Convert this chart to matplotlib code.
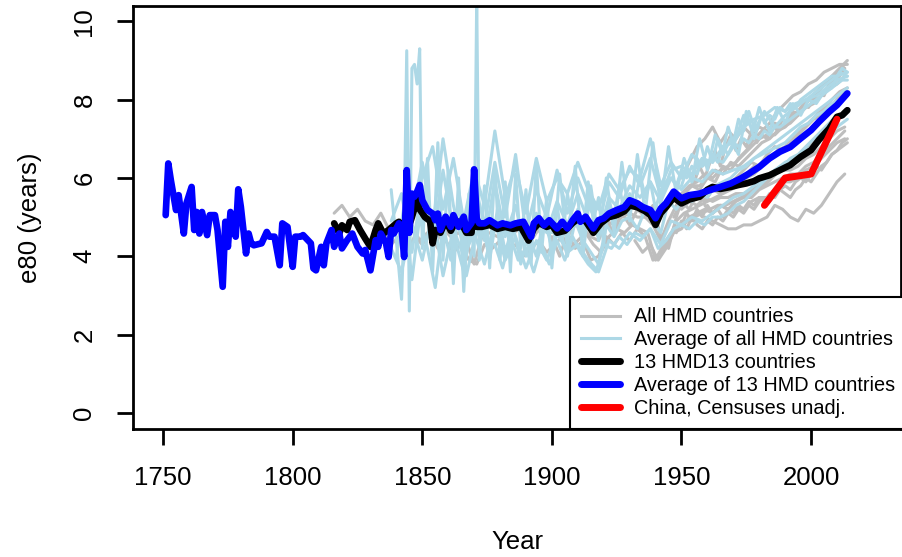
import numpy as np
import matplotlib.pyplot as plt
from matplotlib.lines import Line2D

plt.rcParams['font.family'] = ['Liberation Sans', 'DejaVu Sans']

# e80 averages
blue_years = [1751, 1752, 1753, 1755, 1756, 1758, 1759, 1761, 1762, 1763,
              1764, 1765, 1767, 1768, 1770, 1771, 1773, 1774, 1775, 1776,
              1778, 1779, 1780, 1782, 1783, 1784, 1785, 1788, 1790, 1791,
              1793, 1795, 1796, 1798, 1800, 1801, 1803, 1804, 1806, 1807,
              1808, 1809, 1811, 1812, 1813, 1815, 1816, 1818, 1819, 1821,
              1823, 1825, 1827, 1828, 1829, 1830, 1832, 1833, 1834, 1836,
              1837, 1838, 1839, 1841, 1842, 1843, 1844, 1845, 1846, 1847,
              1848, 1849, 1850, 1852, 1854, 1855, 1856, 1857, 1859, 1861,
              1862, 1864, 1866, 1867, 1869, 1870, 1871, 1872, 1874, 1876,
              1879, 1881, 1884, 1886, 1889, 1892, 1893, 1895, 1897, 1899,
              1902, 1904, 1906, 1908, 1910, 1911, 1913, 1916, 1918, 1920,
              1922, 1925, 1928, 1930, 1933, 1935, 1938, 1940, 1942, 1944,
              1947, 1950, 1953, 1957, 1961, 1965, 1969, 1973, 1976, 1980,
              1984, 1988, 1992, 1996, 2000, 2003, 2007, 2010, 2014]
blue_e80 = [5.05, 6.37, 5.94, 5.18, 5.56, 4.58, 5.35, 5.77, 4.67, 5.13,
            4.58, 5.13, 4.54, 5.05, 5.05, 4.67, 3.22, 4.88, 4.24, 5.13,
            4.50, 5.71, 5.26, 4.07, 4.58, 4.33, 4.28, 4.33, 4.62, 4.50,
            4.50, 3.77, 4.84, 4.75, 3.73, 4.50, 4.50, 4.54, 4.40, 4.33,
            3.69, 3.64, 4.24, 3.77, 4.33, 4.67, 4.24, 4.58, 4.20, 4.41,
            4.58, 4.24, 4.07, 4.16, 3.90, 3.64, 4.41, 4.24, 4.58, 4.33,
            3.98, 4.67, 4.58, 4.84, 4.71, 3.98, 6.20, 4.60, 5.60, 5.52,
            5.65, 5.82, 5.43, 5.18, 5.09, 4.92, 5.09, 4.67, 5.01, 4.75,
            5.05, 4.75, 5.01, 4.67, 4.85, 6.22, 4.95, 4.84, 4.84, 4.92,
            4.79, 4.84, 4.79, 4.84, 4.88, 4.50, 4.84, 4.97, 4.79, 4.92,
            4.71, 4.88, 4.71, 4.92, 5.09, 4.88, 5.01, 4.71, 4.92, 4.97,
            5.09, 5.18, 5.26, 5.43, 5.35, 5.26, 5.18, 4.97, 5.22, 5.35,
            5.65, 5.48, 5.56, 5.60, 5.69, 5.77, 5.86, 5.99, 6.11, 6.28,
            6.50, 6.67, 6.79, 7.01, 7.22, 7.43, 7.69, 7.86, 8.16]

black_years = [1816, 1818, 1819, 1821, 1822, 1824, 1826, 1828, 1830, 1832,
               1833, 1835, 1837, 1840, 1841, 1843, 1844, 1845, 1846, 1848,
               1849, 1851, 1853, 1854, 1855, 1857, 1859, 1861, 1863, 1865,
               1867, 1869, 1870, 1871, 1873, 1876, 1879, 1882, 1885, 1888,
               1891, 1893, 1895, 1898, 1900, 1902, 1905, 1908, 1910, 1913,
               1916, 1919, 1922, 1925, 1928, 1930, 1933, 1936, 1938, 1940,
               1942, 1944, 1947, 1950, 1953, 1957, 1960, 1962, 1965, 1969,
               1972, 1975, 1978, 1980, 1984, 1988, 1992, 1996, 2000, 2003,
               2007, 2010, 2012, 2014]
black_e80 = [4.84, 4.58, 4.79, 4.67, 4.88, 4.92, 4.67, 4.45, 4.24, 4.67,
             4.84, 4.58, 4.67, 4.84, 4.88, 4.70, 5.20, 4.80, 5.00, 5.45,
             5.20, 5.00, 4.90, 4.33, 4.67, 4.60, 4.90, 4.65, 4.90, 4.85,
             4.60, 4.60, 5.60, 4.75, 4.75, 4.80, 4.70, 4.75, 4.70, 4.75,
             4.40, 4.70, 4.85, 4.75, 4.80, 4.60, 4.65, 4.85, 4.95, 4.90,
             4.60, 4.85, 5.00, 5.05, 5.15, 5.30, 5.25, 5.15, 5.05, 4.80,
             5.10, 5.25, 5.50, 5.35, 5.45, 5.52, 5.70, 5.77, 5.72, 5.77,
             5.82, 5.86, 5.92, 5.99, 6.07, 6.20, 6.33, 6.54, 6.71, 6.97,
             7.26, 7.56, 7.60, 7.73]

china_years = [1982, 1990, 2000, 2010]
china_e80 = [5.3, 6.0, 6.1, 7.5]

# single countries, gray: first year, step in years, values
gray_starts = [1816, 1835, 1900, 1959, 1950, 1950, 1921, 1959, 1950, 1932, 1960, 1947,
               1950, 1955, 1948]
gray_steps = [3, 3, 3, 3, 3, 3, 3, 3, 3, 3, 3, 3, 2, 2, 2]
gray_e80 = [
    [5.1, 5.3, 5.0, 5.2, 4.9, 4.8, 5.1, 4.7, 4.9, 4.6, 4.8, 4.4, 4.6, 4.3, 4.7, 4.5, 4.6,
     4.4, 3.8, 4.5, 4.6, 4.5, 4.7, 4.6, 4.7, 4.3, 4.6, 4.8, 4.4, 4.7, 4.5, 4.8, 4.7, 4.5,
     4.4, 4.9, 4.8, 5.0, 5.1, 5.0, 5.0, 4.8, 4.4, 4.9, 5.3, 5.6, 5.8, 5.8, 6.0, 5.9, 6.3,
     6.2, 6.5, 6.7, 7.0, 7.2, 7.4, 7.7, 7.9, 8.1, 8.2, 8.4, 8.5, 8.7, 8.8, 8.9, 8.9],
    [4.6, 4.3, 4.5, 4.1, 4.5, 4.3, 4.6, 4.2, 4.4, 4.1, 4.3, 3.9, 3.8, 4.3, 4.2, 4.4, 4.1,
     4.3, 4.0, 4.2, 4.4, 4.1, 4.3, 4.5, 4.2, 4.4, 4.6, 4.3, 4.1, 4.5, 4.7, 4.6, 4.8, 4.7,
     4.6, 3.9, 4.3, 4.6, 4.8, 4.9, 5.0, 5.1, 5.2, 5.3, 5.3, 5.4, 5.5, 5.6, 5.7, 5.8, 6.0,
     6.2, 6.3, 6.5, 6.7, 6.9, 7.1, 7.3, 7.5, 7.6],
    [4.5, 4.0, 4.6, 4.2, 4.4, 3.9, 4.0, 4.5, 4.3, 4.6, 4.4, 4.7, 4.5, 3.9, 4.1, 4.4, 4.9,
     5.1, 5.2, 5.3, 5.4, 5.5, 5.6, 5.7, 5.8, 6.0, 6.1, 6.3, 6.5, 6.7, 6.8, 7.0, 7.2, 7.4,
     7.6, 7.8, 8.0, 8.2, 8.3],
    [5.0, 4.9, 4.8, 4.7, 4.7, 4.8, 4.8, 4.9, 5.0, 5.3, 5.2, 5.0, 4.9, 5.2, 5.1, 5.3, 5.6,
     5.9, 6.1],
    [5.2, 5.4, 5.3, 5.5, 5.4, 5.5, 5.5, 5.6, 5.6, 5.7, 5.8, 5.9, 6.1, 6.2, 6.2, 6.3, 6.5,
     6.6, 6.8, 7.0, 7.2, 7.3],
    [6.0, 6.4, 6.8, 7.0, 7.3, 6.9, 7.2, 7.0, 7.3, 7.1, 7.3, 7.2, 7.4, 7.3, 7.6, 7.7, 7.9,
     8.1, 8.3, 8.5, 8.7, 8.9],
    [4.9, 4.6, 5.1, 4.8, 5.2, 5.0, 5.3, 4.5, 4.2, 5.0, 5.6, 5.8, 5.7, 6.0, 6.2, 6.1, 6.4,
     6.3, 6.5, 6.7, 6.9, 7.0, 7.2, 7.3, 7.5, 7.8, 8.0, 8.2, 8.4, 8.6, 8.8, 9.0],
    [5.3, 5.1, 5.3, 5.2, 5.3, 5.2, 5.4, 5.5, 5.5, 5.7, 5.9, 5.9, 6.0, 6.2, 6.3, 6.5, 6.7,
     6.9, 7.0],
    [5.6, 5.8, 5.9, 6.1, 6.0, 6.2, 6.3, 6.4, 6.6, 6.8, 7.0, 7.1, 7.1, 7.3, 7.4, 7.6, 7.8,
     7.9, 8.1, 8.3, 8.4, 8.6],
    [4.4, 4.1, 4.3, 3.9, 4.2, 4.6, 4.7, 5.0, 5.1, 5.2, 5.1, 5.3, 5.2, 5.4, 5.5, 5.5, 5.7,
     5.8, 5.9, 6.0, 6.1, 6.1, 6.3, 6.4, 6.6, 6.8, 7.0, 7.2],
    [5.6, 5.8, 5.7, 5.9, 6.0, 6.1, 6.3, 6.3, 6.5, 6.6, 6.7, 6.9, 7.0, 7.2, 7.4, 7.6, 7.8,
     7.9, 8.1],
    [5.0, 5.4, 5.2, 5.6, 5.4, 5.7, 5.6, 5.8, 6.0, 6.2, 6.4, 6.3, 6.6, 6.8, 6.7, 6.9, 7.1,
     7.3, 7.5, 7.6, 7.8, 8.0, 8.2],
    [4.8, 5.1, 4.9, 5.2, 5.0, 5.3, 5.1, 5.2, 5.0, 5.2, 5.1, 5.3, 5.2, 5.4, 5.3, 5.5, 5.4,
     5.6, 5.5, 5.7, 5.8, 5.7, 5.9, 6.0, 5.9, 6.1, 6.3, 6.2, 6.4, 6.6, 6.7, 6.9, 7.0],
    [5.9, 6.3, 6.0, 6.4, 6.7, 6.3, 6.8, 7.1, 6.7, 7.0, 6.8, 7.2, 6.9, 7.1, 7.0, 7.4, 7.2,
     7.5, 7.4, 7.7, 7.6, 7.9, 7.8, 8.0, 8.2, 8.1, 8.4, 8.5, 8.6, 8.8],
    [4.6, 4.9, 4.7, 5.0, 4.8, 4.7, 4.9, 4.8, 5.0, 4.9, 5.1, 5.0, 5.2, 5.1, 5.3, 5.2, 5.4,
     5.5, 5.4, 5.6, 5.7, 5.6, 5.5, 5.7, 5.8, 6.0, 5.9, 6.1, 6.3, 6.4, 6.6, 6.7, 6.8, 6.9],
]

# single countries, light blue: first year, step in years, values
lb_starts = [1838, 1838, 1846, 1840, 1850, 1878, 1950, 1900]
lb_steps = [4, 4, 4, 3, 4, 3, 2, 2]
lb_e80 = [
    [4.9, 5.6, 4.1, 5.8, 4.3, 6.2, 4.6, 3.6, 5.2, 4.4, 5.9, 4.5, 5.3, 4.0, 5.1, 4.6, 5.4,
     4.8, 5.6, 4.9, 4.5, 5.5, 5.2, 5.8, 5.5, 5.9, 5.4, 6.0, 5.7, 6.0, 5.9, 6.2, 6.1, 6.2,
     6.3, 6.5, 6.7, 6.9, 7.1, 7.3, 7.5, 7.7, 7.9, 8.1, 8.3],
    [4.2, 3.6, 4.8, 3.9, 5.1, 3.5, 4.7, 4.0, 4.6, 3.8, 4.9, 3.9, 4.5, 3.7, 4.4, 3.9, 4.6,
     4.1, 4.3, 3.9, 3.6, 4.4, 4.2, 4.6, 4.4, 4.7, 4.3, 4.9, 4.8, 5.0, 4.9, 5.1, 5.3, 5.5,
     5.6, 5.8, 6.0, 6.2, 6.4, 6.5, 6.7, 6.9, 7.1, 7.3, 7.5],
    [5.0, 6.4, 4.7, 7.0, 5.3, 4.2, 5.9, 4.8, 6.4, 5.0, 6.6, 4.6, 5.7, 5.0, 6.2, 5.1, 6.0,
     5.3, 4.8, 5.9, 5.5, 6.3, 5.8, 6.5, 5.5, 6.2, 6.3, 6.1, 6.5, 6.4, 6.8, 6.9, 7.3, 7.5,
     7.6, 7.8, 7.7, 7.9, 8.0, 8.1, 8.3, 8.5, 8.6],
    [4.0, 5.3, 3.4, 5.0, 4.2, 3.2, 4.8, 3.9, 5.4, 3.5, 4.4, 4.9, 3.9, 5.2, 4.1, 4.8, 3.8,
     4.6, 4.0, 5.0, 4.2, 4.7, 4.0, 4.9, 4.4, 4.1, 3.8, 4.8, 4.5, 4.9, 5.0, 4.7, 5.2, 4.9,
     4.6, 5.4, 5.2, 5.5, 5.4, 5.6, 5.5, 5.8, 5.9, 6.0, 6.2, 6.3, 6.5, 6.6, 6.7, 6.8, 6.9,
     7.1, 7.3, 7.4, 7.6, 7.7, 7.9, 8.0, 8.1],
    [6.0, 6.8, 5.2, 6.5, 4.9, 6.2, 5.3, 7.2, 5.5, 6.3, 5.1, 6.5, 5.4, 6.0, 5.6, 6.4, 5.7,
     5.2, 6.1, 5.7, 6.2, 6.0, 7.0, 5.8, 6.4, 6.0, 6.6, 6.3, 6.5, 6.4, 6.8, 7.6, 7.2, 7.7,
     7.3, 7.6, 7.8, 8.0, 8.2, 8.4, 8.6, 8.7],
    [4.3, 3.7, 4.5, 3.9, 4.2, 3.6, 4.3, 3.8, 4.4, 3.9, 4.5, 4.1, 3.8, 3.6, 4.3, 4.2, 4.5,
     4.3, 4.6, 4.5, 4.7, 4.2, 4.4, 4.7, 4.8, 4.7, 4.9, 4.8, 5.0, 5.0, 5.1, 5.3, 5.4, 5.6,
     5.8, 6.0, 6.2, 6.3, 6.5, 6.6, 6.8, 7.0, 7.2, 7.4, 7.6],
    [5.8, 6.2, 5.9, 6.5, 6.3, 6.8, 6.4, 7.0, 6.7, 7.3, 6.9, 7.5, 7.2, 7.7, 7.3, 7.8, 7.4,
     7.6, 7.5, 7.8, 7.7, 7.9, 7.8, 8.0, 8.1, 8.2, 8.3, 8.4, 8.5, 8.6, 8.6, 8.8, 8.7],
    [4.6, 5.3, 4.4, 5.6, 4.8, 5.2, 4.5, 5.9, 4.9, 5.5, 4.3, 5.4, 5.0, 5.8, 5.1, 5.6, 5.3,
     6.1, 5.5, 5.9, 5.2, 5.7, 5.9, 6.0, 5.8, 6.2, 6.0, 6.3, 6.1, 6.5, 6.3, 6.6, 6.4, 6.8,
     6.6, 6.9, 6.8, 7.0, 6.9, 7.1, 7.0, 7.2, 7.1, 7.3, 7.3, 7.4, 7.5, 7.6, 7.7, 7.8, 7.9,
     8.0, 8.1, 8.2, 8.3, 8.4, 8.5, 8.5],
]
# one small country with yearly detail around its 1840s and 1871 spikes
spiky_years = [1838, 1840, 1842, 1843, 1844, 1845, 1846, 1847, 1848, 1849,
               1850, 1852, 1854, 1856, 1858, 1860, 1862, 1864, 1866, 1868,
               1870, 1871, 1872, 1874, 1876, 1878, 1880, 1882, 1884, 1886,
               1888, 1890, 1892, 1894, 1896, 1898, 1900, 1903, 1906, 1909,
               1912, 1915, 1918, 1921, 1924, 1927, 1930, 1933, 1936, 1939,
               1942, 1945, 1948, 1951, 1954, 1957, 1960, 1963, 1966, 1969,
               1972, 1975, 1978, 1981, 1984, 1987, 1990, 1993, 1996, 1999,
               2002, 2005, 2008, 2011, 2014]
spiky_e80 = [5.7, 4.4, 2.9, 4.8, 9.25, 2.6, 8.8, 8.9, 8.4, 9.3,
             4.2, 6.5, 3.6, 6.9, 3.9, 6.2, 3.3, 6.0, 3.1, 5.6,
             4.0, 10.6, 3.9, 5.8, 3.7, 6.3, 3.9, 5.9, 3.6, 6.1,
             4.2, 5.7, 3.8, 6.4, 4.1, 5.5, 3.7, 6.1, 4.2, 6.3,
             4.0, 5.8, 4.4, 6.0, 4.6, 6.4, 4.9, 6.6, 5.1, 6.9,
             5.3, 6.8, 5.6, 6.5, 5.9, 7.0, 6.2, 7.1, 6.6, 7.0,
             6.6, 7.7, 7.0, 7.6, 7.2, 7.8, 7.4, 7.9, 7.6, 8.0,
             7.9, 8.2, 8.3, 8.7, 8.6]

GRAY = '#BEBEBE'
LIGHTBLUE = '#ADD8E6'
round_ends = dict(solid_capstyle='round', solid_joinstyle='round')

fig = plt.figure(figsize=(9.03, 5.57), dpi=100)
ax = fig.add_axes([0.1476, 0.2293, 0.8502, 0.7605])

for start, step, vals in zip(gray_starts, gray_steps, gray_e80):
    yrs = start + step * np.arange(len(vals))
    ax.plot(yrs, vals, color=GRAY, lw=2.2, **round_ends)

for start, step, vals in zip(lb_starts, lb_steps, lb_e80):
    yrs = start + step * np.arange(len(vals))
    ax.plot(yrs, vals, color=LIGHTBLUE, lw=2.2, **round_ends)
ax.plot(spiky_years, spiky_e80, color=LIGHTBLUE, lw=2.2, **round_ends)

ax.plot(black_years, black_e80, color='black', lw=4.8, **round_ends)
ax.plot(blue_years, blue_e80, color='#0000FF', lw=4.8, **round_ends)
ax.plot(china_years, china_e80, color='#FF0000', lw=5.0, **round_ends)

ax.set_xlim(1738.5, 2034.7)
ax.set_ylim(-0.42, 10.4)
ax.set_xticks([1750, 1800, 1850, 1900, 1950, 2000])
ax.set_yticks([0, 2, 4, 6, 8, 10])
for sp in ax.spines.values():
    sp.set_linewidth(2.0)
ax.tick_params(axis='both', length=11.5, width=2.0, labelsize=18.5)
ax.tick_params(axis='x', pad=15)
ax.tick_params(axis='y', pad=15)
for lab in ax.get_yticklabels():
    lab.set_rotation(90)
    lab.set_va('center')

ax.set_xlabel('Year', fontsize=18.5, labelpad=29)
ax.set_ylabel('e80 (years)', fontsize=18.5, labelpad=22)

handles = [
    Line2D([], [], color=GRAY, lw=2.2),
    Line2D([], [], color=LIGHTBLUE, lw=2.2),
    Line2D([], [], color='black', lw=5.0, solid_capstyle='round'),
    Line2D([], [], color='#0000FF', lw=5.0, solid_capstyle='round'),
    Line2D([], [], color='#FF0000', lw=5.0, solid_capstyle='round'),
]
labels = ['All HMD countries', 'Average of all HMD countries', '13 HMD13 countries',
          'Average of 13 HMD countries', 'China, Censuses unadj.']
leg = ax.legend(handles, labels, loc='lower right', bbox_to_anchor=(1.0065, 0),
                borderaxespad=0, fontsize=14.3, handlelength=1.95,
                handletextpad=0.7, labelspacing=0.2, borderpad=0.55,
                fancybox=False, framealpha=1, edgecolor='black')
leg.get_frame().set_linewidth(1.5)

fig.savefig('out.png', dpi=100)
